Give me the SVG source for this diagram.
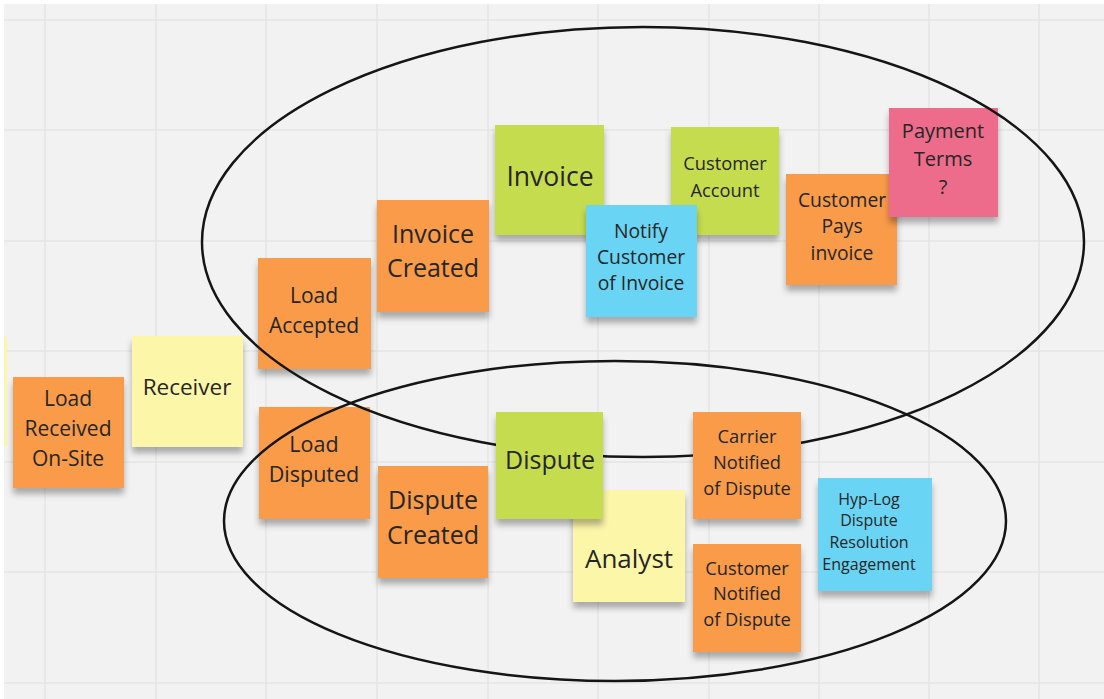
<svg xmlns="http://www.w3.org/2000/svg" width="1104" height="699" viewBox="0 0 1104 699">
<defs>
<filter id="sh" x="-20%" y="-20%" width="140%" height="150%">
<feDropShadow dx="0" dy="6" stdDeviation="3" flood-color="#000" flood-opacity="0.3"/>
</filter>
<style>
.grid line{stroke:#e4e4e4;stroke-width:1.5}
.s{filter:url(#sh)}
.or{fill:#f99b49}
.ye{fill:#fcf6a9}
.gr{fill:#c6dc50}
.bl{fill:#6bd4f4}
.pk{fill:#ed6c8b}
text{font-family:"Open Sans","Liberation Sans",sans-serif;fill:#262626;text-anchor:middle}
.ell{fill:none;stroke:#151515;stroke-width:2.5}
</style>
</defs>
<rect x="0" y="0" width="1104" height="699" fill="#ffffff"/>
<rect x="4" y="4" width="1100" height="695" fill="#f2f2f2"/>
<g class="grid">
<line x1="45" y1="4" x2="45" y2="699"/>
<line x1="156" y1="4" x2="156" y2="699"/>
<line x1="266" y1="4" x2="266" y2="699"/>
<line x1="377" y1="4" x2="377" y2="699"/>
<line x1="488" y1="4" x2="488" y2="699"/>
<line x1="598" y1="4" x2="598" y2="699"/>
<line x1="709" y1="4" x2="709" y2="699"/>
<line x1="819" y1="4" x2="819" y2="699"/>
<line x1="929" y1="4" x2="929" y2="699"/>
<line x1="1039" y1="4" x2="1039" y2="699"/>
<line x1="4" y1="20" x2="1104" y2="20"/>
<line x1="4" y1="130" x2="1104" y2="130"/>
<line x1="4" y1="241" x2="1104" y2="241"/>
<line x1="4" y1="351" x2="1104" y2="351"/>
<line x1="4" y1="462" x2="1104" y2="462"/>
<line x1="4" y1="572" x2="1104" y2="572"/>
<line x1="4" y1="683" x2="1104" y2="683"/>
</g>
<g id="partial-sticky"><rect x="4" y="337" width="3" height="109" class="ye"/></g>
<g id="load-received"><rect class="s or" x="13" y="377" width="111" height="111"/>
<text font-size="21"><tspan x="68" y="406">Load</tspan><tspan x="68" y="436">Received</tspan><tspan x="68" y="466">On-Site</tspan></text></g>
<g id="receiver"><rect class="s ye" x="132" y="336" width="111" height="111"/>
<text font-size="22.5" x="187" y="395">Receiver</text></g>
<g id="load-accepted"><rect class="s or" x="258" y="258" width="113" height="111"/>
<text font-size="21"><tspan x="314" y="303">Load</tspan><tspan x="314" y="333">Accepted</tspan></text></g>
<g id="invoice-created"><rect class="s or" x="377" y="200" width="112" height="112"/>
<text font-size="25"><tspan x="433" y="243">Invoice</tspan><tspan x="433" y="277">Created</tspan></text></g>
<g id="invoice"><rect class="s gr" x="495" y="125" width="109" height="110"/>
<text font-size="26.5" x="550" y="186">Invoice</text></g>
<g id="customer-account"><rect class="s gr" x="671" y="127" width="108" height="108"/>
<text font-size="18.3"><tspan x="725" y="170">Customer</tspan><tspan x="725" y="197">Account</tspan></text></g>
<g id="notify-customer"><rect class="s bl" x="586" y="205" width="111" height="112"/>
<text font-size="19.3"><tspan x="641" y="238">Notify</tspan><tspan x="641" y="264">Customer</tspan><tspan x="641" y="290">of Invoice</tspan></text></g>
<g id="customer-pays"><rect class="s or" x="786" y="174" width="111" height="111"/>
<text font-size="19.3"><tspan x="842" y="207">Customer</tspan><tspan x="842" y="233">Pays</tspan><tspan x="842" y="260">invoice</tspan></text></g>
<g id="payment-terms"><rect class="s pk" x="889" y="108" width="109" height="109"/>
<text font-size="20"><tspan x="943" y="138">Payment</tspan><tspan x="943" y="166">Terms</tspan><tspan x="943" y="194">?</tspan></text></g>
<g id="load-disputed"><rect class="s or" x="259" y="407" width="111" height="112"/>
<text font-size="21.5"><tspan x="314" y="452">Load</tspan><tspan x="314" y="482">Disputed</tspan></text></g>
<g id="dispute-created"><rect class="s or" x="378" y="466" width="110" height="112"/>
<text font-size="25"><tspan x="433" y="509">Dispute</tspan><tspan x="433" y="544">Created</tspan></text></g>
<g id="analyst"><rect class="s ye" x="573" y="490" width="112" height="112"/>
<text font-size="26" x="629" y="568">Analyst</text></g>
<g id="customer-notified"><rect class="s or" x="693" y="544" width="108" height="108"/>
<text font-size="18.3"><tspan x="747" y="575">Customer</tspan><tspan x="747" y="600">Notified</tspan><tspan x="747" y="626">of Dispute</tspan></text></g>
<g id="hyp-log"><rect class="s bl" x="818" y="478" width="114" height="113"/>
<text font-size="16"><tspan x="869" y="505">Hyp-Log</tspan><tspan x="869" y="526">Dispute</tspan><tspan x="869" y="548">Resolution</tspan><tspan x="869" y="570">Engagement</tspan></text></g>
<g id="connectors">
<ellipse class="ell" cx="643" cy="242" rx="441" ry="215"/>
<ellipse class="ell" cx="615" cy="521" rx="391" ry="160"/>
</g>
<g id="dispute"><rect class="s gr" x="496" y="412" width="107" height="107"/>
<text font-size="25" x="550" y="469">Dispute</text></g>
<g id="carrier-notified"><rect class="s or" x="693" y="412" width="108" height="107"/>
<text font-size="18.3"><tspan x="747" y="443">Carrier</tspan><tspan x="747" y="469">Notified</tspan><tspan x="747" y="495">of Dispute</tspan></text></g>
</svg>
